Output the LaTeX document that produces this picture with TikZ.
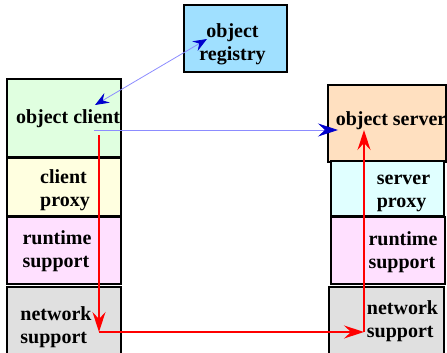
\documentclass[tikz,border=0pt]{standalone}
\usepackage{fontspec}
\setmainfont{Liberation Serif}
\usetikzlibrary{arrows.meta}

\definecolor{clientgreen}{RGB}{224,255,224}
\definecolor{proxyyellow}{RGB}{255,255,224}
\definecolor{runtimepink}{RGB}{255,224,255}
\definecolor{netgray}{RGB}{224,224,224}
\definecolor{serverpeach}{RGB}{255,224,192}
\definecolor{proxycyan}{RGB}{224,255,255}
\definecolor{registryblue}{RGB}{160,224,255}
\definecolor{lineblue}{RGB}{140,140,255}
\definecolor{tipblue}{RGB}{0,0,205}

\begin{document}
\begin{tikzpicture}[x=1pt, y=-1pt,
    layer/.style={rectangle, draw, line width=1.5pt, inner sep=0pt},
    every label/.style={font=\bfseries\fontsize{20}{23}\selectfont, align=left, inner sep=0pt},
    lookup/.style={draw=lineblue, line width=0.8pt,
      {Stealth[length=14pt, width=11pt, inset=5pt, color=tipblue]}-{Stealth[length=14pt, width=11pt, inset=5pt, color=tipblue]}},
    invoke/.style={draw=lineblue, line width=0.8pt,
      -{Stealth[length=20pt, width=13pt, inset=7pt, color=tipblue]}},
    hop/.style={draw=red, line width=1.4pt,
      -{Stealth[length=20pt, width=13pt, inset=7pt]}}
    ]
    \useasboundingbox (0,0) rectangle (447,353);
    \clip (0,0) rectangle (447,353);

    % client side
    \node[layer, fill=clientgreen, minimum width=114pt, minimum height=78pt,
      label={[xshift=4pt, yshift=-1pt]center:object client}] (client) at (64,118) {};
    \node[layer, fill=proxyyellow, minimum width=114pt, minimum height=58pt,
      label={[xshift=1pt, yshift=-3pt]center:{client\\proxy}}] (cproxy) at (64,187) {};
    \node[layer, fill=runtimepink, minimum width=114pt, minimum height=67pt,
      label={[xshift=-7pt, yshift=-1pt]center:{runtime\\support}}] (cruntime) at (64,250.5) {};
    \node[layer, fill=netgray, minimum width=114pt, minimum height=73pt,
      label={[xshift=-8pt, yshift=-4pt]center:{network\\support}}] (cnet) at (64,323.5) {};

    % server side
    \node[layer, fill=serverpeach, minimum width=118pt, minimum height=77pt,
      label={[xshift=4pt, yshift=3pt]center:object server}] (server) at (387,123.5) {};
    \node[layer, fill=proxycyan, minimum width=113pt, minimum height=55pt,
      label={[xshift=16pt, yshift=-5pt]center:{server\\proxy}}] (sproxy) at (387.5,188.5) {};
    \node[layer, fill=runtimepink, minimum width=114pt, minimum height=67pt,
      label={[xshift=15pt, yshift=-2pt]center:{runtime\\support}}] (sruntime) at (388,250.5) {};
    \node[layer, fill=netgray, minimum width=115pt, minimum height=73pt,
      label={[xshift=16pt, yshift=2pt]center:{network\\support}}] (snet) at (386.5,323.5) {};

    % registry
    \node[layer, fill=registryblue, minimum width=103pt, minimum height=67pt,
      label={[xshift=-3pt, yshift=-6pt, align=center]center:{object\\registry}}] (registry) at (235.5,38.5) {};

    % connector ends
    \coordinate (lookupc) at (95,105);
    \coordinate (lookupr) at (207,39);
    \coordinate (callc) at (94,130);
    \coordinate (calls) at (338,130);
    \coordinate (downtop) at (99,135);
    \coordinate (downbot) at (99,332);
    \coordinate (upbot) at (364,332);
    \coordinate (uptop) at (364,130);

    \draw[lookup] (lookupc) -- (lookupr);
    \draw[invoke] (callc) -- (calls);
    \draw[hop] (downtop) -- (downbot);
    \draw[hop] (downbot) -- (upbot);
    \draw[hop] (upbot) -- (uptop);
\end{tikzpicture}
\end{document}
